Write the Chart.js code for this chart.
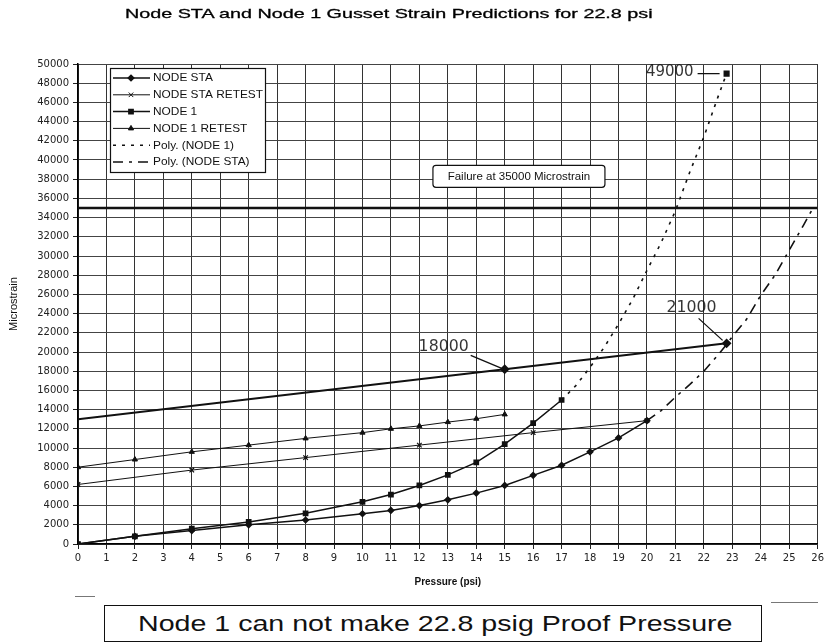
<!DOCTYPE html>
<html><head><meta charset="utf-8">
<script src="https://cdn.jsdelivr.net/npm/chart.js@4.4.0/dist/chart.umd.min.js"></script>
<style>
html,body{margin:0;padding:0;background:#fff;width:827px;height:643px;overflow:hidden;}
#wrap{position:relative;width:827px;height:643px;}
#c{position:absolute;left:0;top:0;}
#title{position:absolute;top:6px;left:125px;white-space:nowrap;font:13.5px "Liberation Sans",Arial,sans-serif;color:#000;transform-origin:0 0;-webkit-text-stroke:0.3px #000;}
#note{position:absolute;left:104px;top:605px;width:658px;height:37px;border:1.5px solid #111;box-sizing:border-box;background:#fff;}
#noteText{position:absolute;left:33px;top:5px;white-space:nowrap;font:22px "Liberation Sans",Arial,sans-serif;color:#111;transform-origin:0 0;}
.dash{position:absolute;height:1px;background:#777;}
</style></head>
<body><div id="wrap">
<canvas id="c" width="827" height="643"></canvas>
<div id="title">Node STA and Node 1 Gusset Strain Predictions for 22.8 psi</div>
<div class="dash" style="left:75px;top:596px;width:20px;"></div>
<div class="dash" style="left:771px;top:602px;width:47px;"></div>
<div id="note"><span id="noteText">Node 1 can not make 22.8 psig Proof Pressure</span></div>
</div>
<script>
// ---- data ----
const pressureSTA = [0,2,4,6,8,10,11,12,13,14,15,16,17,18,19,20];
const strainSTA = [0,800,1400,2000,2500,3150,3500,4000,4600,5300,6100,7150,8200,9600,11050,12850];
const pressureSTARetest = [0,4,8,12,16,20];
const strainSTARetest = [6200,7700,9000,10300,11600,12850];
const pressureN1 = [0,2,4,6,8,10,11,12,13,14,15,16,17];
const strainN1 = [0,800,1600,2300,3200,4400,5150,6100,7200,8500,10400,12600,15000];
const pressureN1Retest = [0,2,4,6,8,10,11,12,13,14,15];
const strainN1Retest = [8000,8800,9600,10300,11000,11600,12000,12300,12700,13050,13500];
const pressurePolyN1 = [17,17.5,18,18.5,19,19.5,20,20.5,21,21.5,22,22.5,22.8];
const strainPolyN1 = [15000,16500,18400,20500,22900,25500,28500,31400,34700,38700,42400,46600,49000];
const pressurePolySTA = [20,20.5,21,21.5,22,22.5,22.8,23,23.5,24,24.5,25,25.5,25.8];
const strainPolySTA = [12850,13900,15300,16600,18000,19700,20800,21600,23400,25900,28000,30600,33200,34800];
const pressureProjection = [0,15,22.8];
const strainProjection = [13000,18200,20900];
const failurePressure = [0,26];
const failureStrain = [35000,35000];
const annotations = [
  {label:'18000', x:15, y:18200},
  {label:'21000', x:22.8, y:20900},
  {label:'49000', x:22.8, y:49000}
];
const failureLabel = 'Failure at 35000 Microstrain';
const xTickMin = 0, xTickMax = 26, xTickStep = 1;
const yTickMin = 0, yTickMax = 50000, yTickStep = 2000;

const toXY = (xs, ys) => xs.map((x, i) => ({x, y: ys[i]}));
const K = '#111';
const base = {borderColor:K, backgroundColor:K, pointBorderColor:K, pointBackgroundColor:K, tension:0, fill:false};

const datasets = [
  {...base, label:'NODE STA', data:toXY(pressureSTA, strainSTA), borderWidth:1.5, pointStyle:'rectRot', pointRadius:2.8, inLegend:true},
  {...base, label:'NODE STA RETEST', data:toXY(pressureSTARetest, strainSTARetest), borderWidth:1, pointStyle:'crossRot', pointRadius:3.2, pointBorderWidth:1.3, inLegend:true},
  {...base, label:'NODE 1', data:toXY(pressureN1, strainN1), borderWidth:1.5, pointStyle:'rect', pointRadius:3, inLegend:true},
  {...base, label:'NODE 1 RETEST', data:toXY(pressureN1Retest, strainN1Retest), borderWidth:1, pointStyle:'triangle', pointRadius:3, inLegend:true},
  {...base, label:'Poly. (NODE 1)', data:toXY(pressurePolyN1, strainPolyN1), borderWidth:1.6, borderDash:[3,6], pointStyle:'rect',
    pointRadius:pressurePolyN1.map((p,i)=> i===pressurePolyN1.length-1 ? 3.2 : 0), inLegend:true},
  {...base, label:'Poly. (NODE STA)', data:toXY(pressurePolySTA, strainPolySTA), borderWidth:1.6, borderDash:[10,6,3,6], pointRadius:0, inLegend:true},
  {...base, label:'Projection', data:toXY(pressureProjection, strainProjection), borderWidth:2, pointStyle:'rectRot',
    pointRadius:pressureProjection.map((p,i)=> i===0 ? 0 : 3.5), inLegend:false},
  {...base, label:'Failure', data:toXY(failurePressure, failureStrain), borderWidth:2.5, pointRadius:0, inLegend:false}
];

function drawText(ctx, text, x, y, font, sx, align) {
  ctx.save();
  ctx.font = font;
  ctx.textBaseline = 'middle';
  const w = ctx.measureText(text).width * sx;
  let x0 = x;
  if (align === 'center') x0 = x - w / 2;
  else if (align === 'right') x0 = x - w;
  ctx.translate(x0, y);
  ctx.scale(sx, 1);
  ctx.textAlign = 'left';
  ctx.fillStyle = '#111';
  ctx.fillText(text, 0, 0);
  ctx.restore();
}

const overlay = {
  id:'overlay',
  afterDatasetsDraw(chart) {
    const ctx = chart.ctx;
    const xs = chart.scales.x, ys = chart.scales.y;
    const ca = chart.chartArea;

    // Failure label box
    const fx = xs.getPixelForValue(15.5), fy = ys.getPixelForValue(38300);
    ctx.save();
    ctx.beginPath();
    ctx.roundRect(fx - 86, fy - 11, 172, 22, 3);
    ctx.fillStyle = '#fff'; ctx.fill();
    ctx.lineWidth = 1.2; ctx.strokeStyle = K; ctx.stroke();
    ctx.restore();
    drawText(ctx, failureLabel, fx, fy + 1, '10px "Liberation Sans", Arial', 1.15, 'center');

    // Legend
    const lx = ca.left + 32, ly = ca.top + 4, lw = 155, lh = 104;
    ctx.save();
    ctx.fillStyle = '#fff';
    ctx.fillRect(lx, ly, lw, lh);
    ctx.lineWidth = 1.2; ctx.strokeStyle = K;
    ctx.strokeRect(lx + 0.5, ly + 0.5, lw, lh);
    ctx.restore();
    const legendItems = chart.data.datasets.filter(d => d.inLegend);
    legendItems.forEach((d, i) => {
      const y = ly + 10 + i * 16.8;
      ctx.save();
      ctx.strokeStyle = K;
      ctx.lineWidth = d.borderWidth;
      ctx.setLineDash(d.borderDash || []);
      ctx.beginPath();
      ctx.moveTo(lx + 3, y); ctx.lineTo(lx + 40, y);
      ctx.stroke();
      ctx.setLineDash([]);
      const r = Array.isArray(d.pointRadius) ? 0 : d.pointRadius;
      if (r > 0) {
        ctx.fillStyle = K;
        Chart.helpers.drawPoint(ctx, {pointStyle:d.pointStyle, radius:r, borderWidth:d.pointBorderWidth || 1, rotation:0}, lx + 21, y);
      }
      ctx.restore();
      drawText(ctx, d.label, lx + 43, y + 0.5, '10.8px "Liberation Sans", Arial', 1.1, 'left');
    });

    // Hand-written annotations
    const hand = '15px "DejaVu Sans", sans-serif';
    const a0 = annotations[0], p0 = {x: xs.getPixelForValue(a0.x), y: ys.getPixelForValue(a0.y)};
    const a1 = annotations[1], p1 = {x: xs.getPixelForValue(a1.x), y: ys.getPixelForValue(a1.y)};
    const a2 = annotations[2], p2 = {x: xs.getPixelForValue(a2.x), y: ys.getPixelForValue(a2.y)};
    ctx.save();
    ctx.strokeStyle = K; ctx.lineWidth = 1.3;
    ctx.beginPath();
    ctx.moveTo(p0.x - 34, p0.y - 14); ctx.lineTo(p0.x - 3, p0.y - 1);
    ctx.moveTo(p1.x - 28, p1.y - 25); ctx.lineTo(p1.x - 4, p1.y - 3);
    ctx.moveTo(p2.x - 29, p2.y); ctx.lineTo(p2.x - 7, p2.y);
    ctx.stroke();
    ctx.restore();
    ctx.save(); ctx.globalAlpha = 0.85;
    drawText(ctx, a0.label, p0.x - 36, p0.y - 22, hand, 1.05, 'right');
    drawText(ctx, a1.label, p1.x - 10, p1.y - 35, hand, 1.05, 'right');
    drawText(ctx, a2.label, p2.x - 33, p2.y - 1, hand, 1.0, 'right');
    ctx.restore();
  }
};

new Chart(document.getElementById('c'), {
  type:'line',
  data:{datasets},
  plugins:[overlay],
  options:{
    responsive:false,
    animation:false,
    layout:{padding:{left:6, right:9, top:64, bottom:49}},
    plugins:{legend:{display:false}, title:{display:false}, tooltip:{enabled:false}},
    scales:{
      x:{
        type:'linear', min:xTickMin, max:xTickMax,
        ticks:{stepSize:xTickStep, color:'#222', font:{family:'DejaVu Sans', size:10}, padding:3, maxRotation:0, autoSkip:false,
          callback:(v) => String(v)},
        grid:{color:'#333', lineWidth:1, tickLength:5, tickColor:'#222'},
        border:{color:'#000', width:1.5},
        title:{display:true, text:'Pressure (psi)', color:'#111', font:{family:'Liberation Sans', size:10, weight:'bold'}, padding:{top:4, bottom:6}},
        afterFit(s){ s.height = 50; }
      },
      y:{
        min:yTickMin, max:yTickMax,
        ticks:{stepSize:yTickStep, color:'#222', font:{family:'DejaVu Sans', size:10}, padding:4, autoSkip:false,
          callback:(v) => String(v)},
        grid:{color:'#444', lineWidth:1, tickLength:5, tickColor:'#222'},
        border:{color:'#000', width:1.5},
        title:{display:true, text:'Microstrain', color:'#111', font:{family:'Liberation Sans', size:11}, padding:{top:1, bottom:0}},
        afterFit(s){ s.width = 72; }
      }
    }
  }
});

function fit(id, target) {
  const el = document.getElementById(id);
  el.style.transform = 'scaleX(' + (target / el.offsetWidth) + ')';
}
fit('title', 528);
fit('noteText', 594);
</script>
</body></html>
